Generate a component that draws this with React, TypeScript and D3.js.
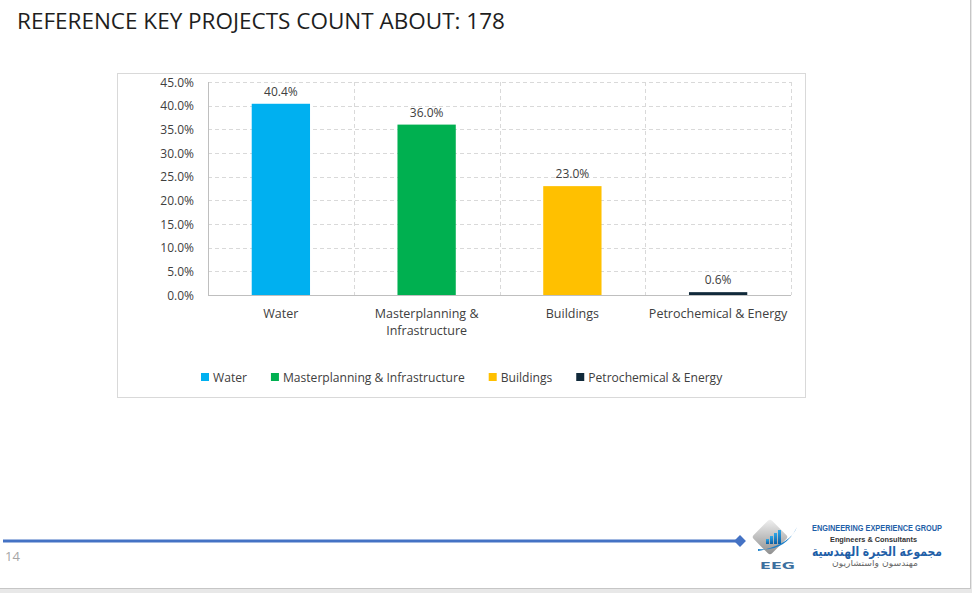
import { useEffect, useRef } from 'react';
import * as d3 from 'd3';

const categories = ['Water', 'Masterplanning & Infrastructure', 'Buildings', 'Petrochemical & Energy'];
const shares = [40.4, 36.0, 23.0, 0.6];
const barColors = ['#00B0F0', '#00B050', '#FFC000', '#10293A'];
const tickLabelLines = [['Water'], ['Masterplanning &', 'Infrastructure'], ['Buildings'], ['Petrochemical & Energy']];
const yTicks = [0, 5, 10, 15, 20, 25, 30, 35, 40, 45];

const W = 972;
const H = 593;
const FONT = '"Open Sans", "Noto Sans", sans-serif';

export default function App() {
  const ref = useRef<SVGSVGElement>(null);

  useEffect(() => {
    if (!ref.current) return;
    const svg = d3.select(ref.current);
    svg.selectAll('*').remove();

    // slide page
    svg.append('rect').attr('width', W).attr('height', H).attr('fill', '#e8e8e8');
    svg.append('rect').attr('width', 970).attr('height', 588).attr('fill', '#fff');
    svg.append('line').attr('x1', 970.5).attr('x2', 970.5).attr('y1', 0).attr('y2', 588)
      .style('stroke', '#c6c6c6');
    svg.append('line').attr('x1', 0).attr('x2', 971).attr('y1', 588.5).attr('y2', 588.5)
      .style('stroke', '#c6c6c6');

    svg.append('text')
      .attr('x', 17).attr('y', 29)
      .style('font-family', FONT).style('font-size', '22.5px').style('fill', '#1e1e1e')
      .text('REFERENCE KEY PROJECTS COUNT ABOUT: 178');

    // chart frame
    svg.append('rect')
      .attr('x', 117.5).attr('y', 73.5).attr('width', 688).attr('height', 324)
      .attr('fill', '#fff').style('stroke', '#d9d9d9');

    const margin = { left: 208, right: 791, top: 82, bottom: 295 };
    const x = d3.scaleBand<string>()
      .domain(categories)
      .range([margin.left, margin.right])
      .paddingInner(0.6)
      .paddingOuter(0.3);
    const y = d3.scaleLinear().domain([0, 45]).range([margin.bottom, margin.top]);

    const g = svg.append('g');

    // horizontal dashed grid
    g.selectAll('line.hgrid')
      .data(yTicks.filter(t => t > 0))
      .join('line')
      .attr('class', 'hgrid')
      .attr('x1', margin.left).attr('x2', margin.right)
      .attr('y1', d => Math.round(y(d)) + 0.5).attr('y2', d => Math.round(y(d)) + 0.5)
      .style('stroke', '#d9d9d9').style('stroke-dasharray', '4,3');

    // vertical dashed grid at category boundaries
    g.selectAll('line.vgrid')
      .data(categories)
      .join('line')
      .attr('class', 'vgrid')
      .attr('x1', d => Math.round(x(d)! + x.bandwidth() / 2 + x.step() / 2) + 0.5)
      .attr('x2', d => Math.round(x(d)! + x.bandwidth() / 2 + x.step() / 2) + 0.5)
      .attr('y1', margin.top).attr('y2', margin.bottom)
      .style('stroke', '#d9d9d9').style('stroke-dasharray', '4,3');

    // axis lines
    g.append('line')
      .attr('x1', margin.left + 0.5).attr('x2', margin.left + 0.5)
      .attr('y1', margin.top).attr('y2', margin.bottom)
      .style('stroke', '#bfbfbf');
    g.append('line')
      .attr('x1', margin.left).attr('x2', margin.right)
      .attr('y1', margin.bottom + 0.5).attr('y2', margin.bottom + 0.5)
      .style('stroke', '#bfbfbf');

    // y tick labels
    g.selectAll('text.ytick')
      .data(yTicks)
      .join('text')
      .attr('class', 'ytick')
      .attr('x', 194).attr('y', d => y(d) + 4.5)
      .attr('text-anchor', 'end')
      .style('font-family', FONT).style('font-size', '12px').style('fill', '#404040')
      .text(d => `${d.toFixed(1)}%`);

    // bars
    g.selectAll('rect.bar')
      .data(shares)
      .join('rect')
      .attr('class', 'bar')
      .attr('x', (_, i) => x(categories[i])!)
      .attr('width', x.bandwidth())
      .attr('y', d => y(d))
      .attr('height', d => y(0) - y(d))
      .attr('fill', (_, i) => barColors[i]);

    // value labels
    g.selectAll('text.val')
      .data(shares)
      .join('text')
      .attr('class', 'val')
      .attr('x', (_, i) => x(categories[i])! + x.bandwidth() / 2)
      .attr('y', d => y(d) - 8)
      .attr('text-anchor', 'middle')
      .style('font-family', FONT).style('font-size', '12px').style('fill', '#404040')
      .text(d => `${d.toFixed(1)}%`);

    // category labels
    categories.forEach((c, i) => {
      const t = g.append('text')
        .attr('text-anchor', 'middle')
        .style('font-family', FONT).style('font-size', '12.5px').style('fill', '#404040');
      tickLabelLines[i].forEach((line, j) => {
        t.append('tspan')
          .attr('x', x(c)! + x.bandwidth() / 2)
          .attr('y', 318 + j * 17)
          .text(line);
      });
    });

    // legend
    const legend = svg.append('g');
    let lx = 201;
    categories.forEach((c, i) => {
      legend.append('rect')
        .attr('x', lx).attr('y', 373).attr('width', 8).attr('height', 8)
        .attr('fill', barColors[i]);
      const t = legend.append('text')
        .attr('x', lx + 12).attr('y', 382)
        .style('font-family', FONT).style('font-size', '12.1px').style('fill', '#404040')
        .text(c);
      const w = (t.node() as SVGTextElement).getComputedTextLength();
      lx += 12 + w + 24;
    });

    // footer rule with diamond marker
    svg.append('line')
      .attr('x1', 3).attr('x2', 736).attr('y1', 541).attr('y2', 541)
      .style('stroke', '#4472C4').style('stroke-width', 3);
    svg.append('path')
      .attr('d', d3.symbol(d3.symbolDiamond2, 90)())
      .attr('transform', 'translate(740,541)')
      .attr('fill', '#4472C4');

    svg.append('text')
      .attr('x', 5).attr('y', 561)
      .style('font-family', FONT).style('font-size', '13px').style('fill', '#a6a6a6')
      .text('14');

    // company logo
    const logo = svg.append('g');
    const defs = svg.append('defs');
    const grey = defs.append('linearGradient').attr('id', 'logoGrey')
      .attr('x1', 0).attr('y1', 0).attr('x2', 1).attr('y2', 1);
    grey.append('stop').attr('offset', 0).attr('stop-color', '#f2f2f2');
    grey.append('stop').attr('offset', 1).attr('stop-color', '#8c8c8c');
    const blue = defs.append('linearGradient').attr('id', 'logoBlue')
      .attr('x1', 0).attr('y1', 0).attr('x2', 0).attr('y2', 1);
    blue.append('stop').attr('offset', 0).attr('stop-color', '#2fa8e8');
    blue.append('stop').attr('offset', 1).attr('stop-color', '#0b5fa5');

    logo.append('rect')
      .attr('x', -13).attr('y', -13).attr('width', 26).attr('height', 26).attr('rx', 3)
      .attr('transform', 'translate(770,537) rotate(45)')
      .attr('fill', 'url(#logoGrey)');
    [[766, 5], [770, 8], [774, 11], [778, 14]].forEach(([bx, bh]) => {
      logo.append('rect')
        .attr('x', bx).attr('y', 544 - bh).attr('width', 3).attr('height', bh)
        .attr('fill', 'url(#logoBlue)');
    });
    logo.append('path')
      .attr('d', 'M758,549 Q785,552 797,527 Q790,545 758,551 Z')
      .attr('fill', '#1a7fc9');
    logo.append('text')
      .attr('x', 760).attr('y', 569)
      .attr('textLength', 35).attr('lengthAdjust', 'spacingAndGlyphs')
      .style('font-family', '"DejaVu Sans", sans-serif').style('font-size', '9px')
      .style('font-weight', 700).style('fill', '#3b6f9e')
      .text('EEG');

    logo.append('text')
      .attr('x', 812).attr('y', 531)
      .attr('textLength', 130).attr('lengthAdjust', 'spacingAndGlyphs')
      .style('font-family', '"Liberation Sans Narrow", "Liberation Sans", Arial, sans-serif')
      .style('font-size', '9.5px')
      .style('font-weight', 700).style('fill', '#1f5fa8')
      .text('ENGINEERING EXPERIENCE GROUP');
    logo.append('text')
      .attr('x', 830).attr('y', 542)
      .attr('textLength', 87).attr('lengthAdjust', 'spacingAndGlyphs')
      .style('font-family', '"Liberation Sans", Arial, sans-serif').style('font-size', '8px')
      .style('font-weight', 700).style('fill', '#333')
      .text('Engineers & Consultants');
    logo.append('text')
      .attr('x', 942).attr('y', 556)
      .attr('text-anchor', 'end')
      .attr('textLength', 130).attr('lengthAdjust', 'spacingAndGlyphs')
      .style('font-family', '"DejaVu Sans", sans-serif').style('font-size', '13px')
      .style('font-weight', 700).style('fill', '#1f5fa8')
      .text('مجموعة الخبرة الهندسية');
    logo.append('text')
      .attr('x', 918).attr('y', 566)
      .attr('text-anchor', 'end')
      .attr('textLength', 86).attr('lengthAdjust', 'spacingAndGlyphs')
      .style('font-family', '"DejaVu Sans", sans-serif').style('font-size', '8.5px')
      .style('fill', '#666')
      .text('مهندسون واستشاريون');
  }, []);

  return (
    <svg
      ref={ref}
      width={W}
      height={H}
      style={{ position: 'fixed', left: 0, top: 0 }}
      aria-label="Reference key projects by sector"
    />
  );
}
